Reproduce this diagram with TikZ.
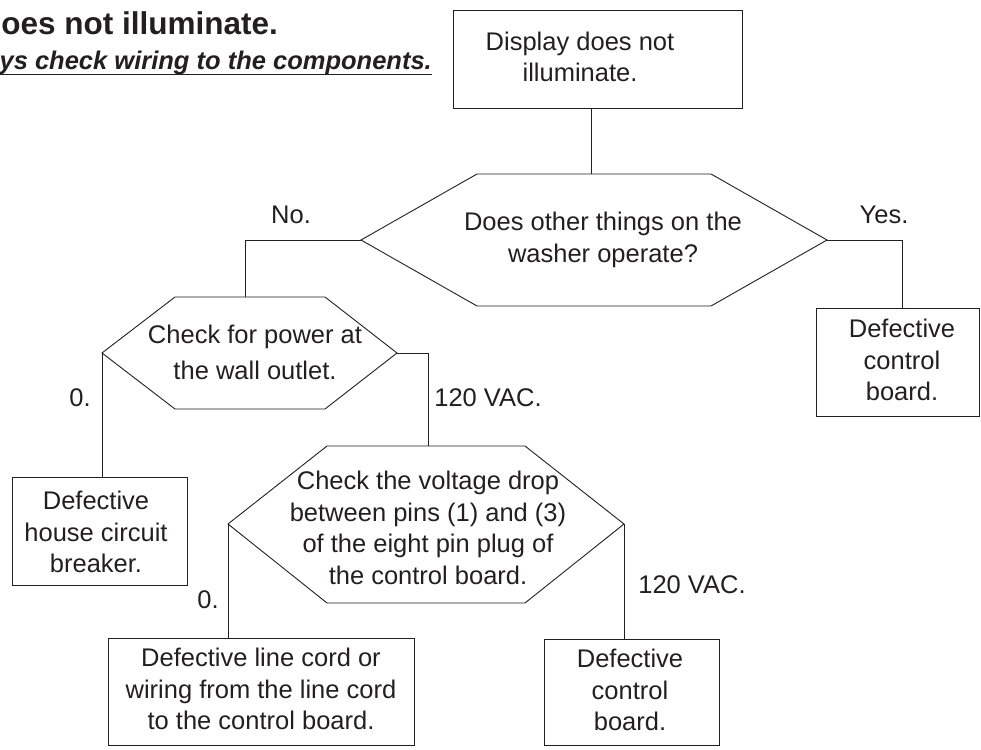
\documentclass[tikz,border=0pt]{standalone}
\usepackage{fontspec}
\setmainfont{Liberation Sans}
\definecolor{ink}{HTML}{231F20}
\tikzset{
  conn/.style={draw=ink, line width=0.9pt},
  shapeline/.style={draw=ink, line width=0.9pt, line join=miter},
  boxnode/.style={draw=ink, line width=0.9pt, inner sep=0pt, rectangle},
  txt/.style={text=ink, align=center, inner sep=0pt, font=\fontsize{25.5}{31.5}\selectfont},
  lbl/.style={text=ink, inner sep=0pt, font=\fontsize{25.5}{31.5}\selectfont},
}
\begin{document}
\begin{tikzpicture}[x=1pt,y=-1pt]
\useasboundingbox (0,0) rectangle (981,749);

% title
\node[text=ink, inner sep=0pt, anchor=base east, font=\bfseries\fontsize{31.5}{36}\selectfont] (title) at (278,35) {oes not illuminate.};
\node[text=ink, inner sep=0pt, anchor=base east, font=\bfseries\itshape\fontsize{25.5}{30}\selectfont] (sub) at (432,70) {ys check wiring to the components.};
\draw[conn, line width=1.2pt] ([yshift=-4.5pt]sub.base west) -- ([yshift=-4.5pt]sub.base east);

% top box
\node[boxnode, minimum width=289pt, minimum height=98pt] (top) at (597.5,59) {};
\node[txt] (toptxt) at (580,57) {Display does not\\illuminate.};

% hexagon 1
\coordinate (h1l) at (361,240);
\coordinate (h1tl) at (477,174);
\coordinate (h1t) at (591,174);
\coordinate (h1tr) at (711,174);
\coordinate (h1r) at (827,240);
\coordinate (h1br) at (711,306);
\coordinate (h1bl) at (477,306);
\draw[shapeline] (h1l) -- (h1tl) -- (h1tr) -- (h1r) -- (h1br) -- (h1bl) -- cycle;
\node[txt] (h1txt) at (603,240) {Does other things on the\\washer operate?};

% hexagon 2
\coordinate (h2l) at (102,353);
\coordinate (h2tl) at (175,297);
\coordinate (h2t) at (245,297);
\coordinate (h2tr) at (325,297);
\coordinate (h2r) at (397,353);
\coordinate (h2br) at (325,409);
\coordinate (h2bl) at (175,409);
\draw[shapeline] (h2l) -- (h2tl) -- (h2tr) -- (h2r) -- (h2br) -- (h2bl) -- cycle;
\node[txt, font=\fontsize{25.5}{36}\selectfont] (h2txt) at (255,352) {Check for power at\\the wall outlet.};

% hexagon 3
\coordinate (h3l) at (228,524);
\coordinate (h3tl) at (327,446);
\coordinate (h3t) at (428,446);
\coordinate (h3tr) at (525,446);
\coordinate (h3r) at (624,524);
\coordinate (h3br) at (525,603);
\coordinate (h3bl) at (327,603);
\draw[shapeline] (h3l) -- (h3tl) -- (h3tr) -- (h3r) -- (h3br) -- (h3bl) -- cycle;
\node[txt] (h3txt) at (428,528) {Check the voltage drop\\between pins (1) and (3)\\of the eight pin plug of\\the control board.};

% result boxes
\node[boxnode, minimum width=163pt, minimum height=108pt] (rbox) at (897.5,362) {};
\node[txt] (rtxt) at (902,360) {Defective\\control\\board.};

\node[boxnode, minimum width=175pt, minimum height=108pt] (lbox) at (99.5,531) {};
\node[txt] (ltxt) at (96,532) {Defective\\house circuit\\breaker.};

\node[boxnode, minimum width=306pt, minimum height=107pt] (blbox) at (261,691.5) {};
\node[txt] (bltxt) at (261,689) {Defective line cord or\\wiring from the line cord\\to the control board.};

\node[boxnode, minimum width=175pt, minimum height=106pt] (brbox) at (631.5,692) {};
\node[txt] (brtxt) at (630,690) {Defective\\control\\board.};

% connectors
\coordinate (rj) at (902,240);
\draw[conn] (h1t |- top.south) -- (h1t);
\draw[conn] (h1l) -| (h2t);
\draw[conn] (h1r) -- (rj) -- (rj |- rbox.north);
\draw[conn] (h2l) -- (h2l |- lbox.north);
\draw[conn] (h2r) -| (h3t);
\draw[conn] (h3l) -- (h3l |- blbox.north);
\draw[conn] (h3r) -- (h3r |- brbox.north);

% labels
\node[lbl] (lno) at (291,215) {No.};
\node[lbl] (lyes) at (884,215) {Yes.};
\node[lbl] (lz1) at (80,398) {0.};
\node[lbl] (lv1) at (488,398) {120 VAC.};
\node[lbl] (lz2) at (208,600) {0.};
\node[lbl] (lv2) at (692,585) {120 VAC.};
\end{tikzpicture}
\end{document}
